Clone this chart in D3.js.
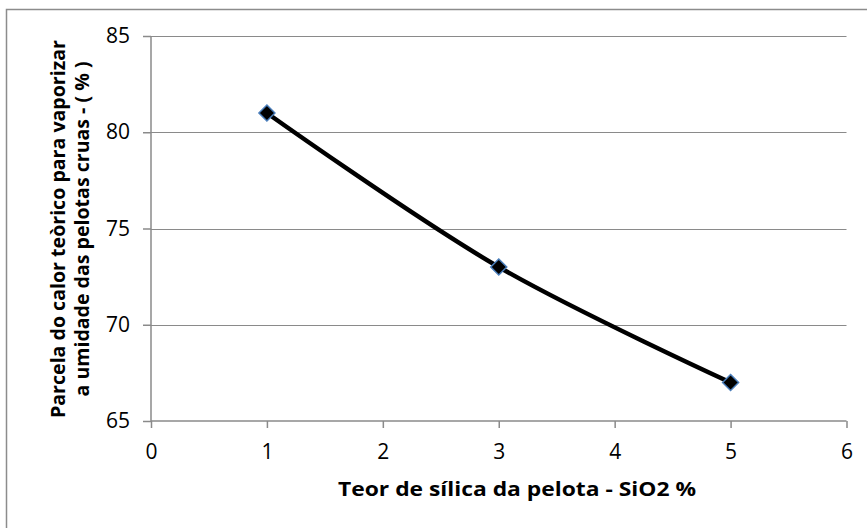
<!DOCTYPE html>
<html>
<head>
<meta charset="utf-8">
<script src="https://cdn.jsdelivr.net/npm/d3@7/dist/d3.min.js"></script>
<style>
  html, body { margin: 0; padding: 0; background: #fff; }
  svg { display: block; }
  text { font-family: "Open Sans", "Noto Sans", sans-serif; fill: #000; }
</style>
</head>
<body>
<svg id="chart" width="867" height="528"></svg>
<script>
// Silica content of the pellet (%) and share of theoretical heat used to evaporate moisture (%)
const silica = [1, 3, 5];
const heatShare = [81, 73, 67];
const xTicks = [0, 1, 2, 3, 4, 5, 6];
const yTicks = [65, 70, 75, 80, 85];
const xTitle = "Teor de sílica da pelota - SiO2 %";
const yTitleLines = ["Parcela do calor teòrico para vaporizar", "a umidade das pelotas cruas - ( % )"];

const svg = d3.select("#chart");
const W = 867, H = 528;

// outer chart frame (runs past the right and bottom edges)
svg.append("rect")
  .attr("x", 6.5).attr("y", 9.5)
  .attr("width", W + 20).attr("height", H + 20)
  .attr("fill", "#fff").attr("stroke", "#8c8c8c").attr("stroke-width", 1.5);

const x = d3.scaleLinear().domain([0, 6]).range([151, 846.5]);
const y = d3.scaleLinear().domain([65, 85]).range([421, 36]);

const grid = "#8a8a8a";

// horizontal gridlines
svg.append("g").selectAll("line").data(yTicks.filter(v => v !== 65)).join("line")
  .attr("x1", x(0)).attr("x2", x(6))
  .attr("y1", d => Math.round(y(d)) + 0.5).attr("y2", d => Math.round(y(d)) + 0.5)
  .attr("stroke", grid).attr("stroke-width", 1.2);

// axes
const yAxis = svg.append("g").attr("transform", `translate(${x(0)},0)`)
  .call(d3.axisLeft(y).tickValues(yTicks).tickFormat(d3.format("d")).tickSize(8).tickPadding(13));
const xAxis = svg.append("g").attr("transform", `translate(0,${y(65)})`)
  .call(d3.axisBottom(x).tickValues(xTicks).tickFormat(d3.format("d")).tickSize(7).tickPadding(16));

[yAxis, xAxis].forEach(a => {
  a.attr("font-size", null).attr("font-family", null);
  a.select(".domain").attr("stroke", grid).attr("stroke-width", 1.5);
  a.selectAll(".tick line").attr("stroke", grid).attr("stroke-width", 1.5);
  a.selectAll(".tick text").style("font-size", "21px").style("fill", "#000");
});
yAxis.select(".domain").attr("d", `M0,${y(85)}V${y(65)}`);
xAxis.select(".domain").attr("d", `M${x(0)},0H${x(6)}`);

// data line
const pts = silica.map((s, i) => [s, heatShare[i]]);
svg.append("path")
  .datum(pts)
  .attr("fill", "none").attr("stroke", "#000").attr("stroke-width", 4.5)
  .attr("stroke-linejoin", "round")
  .attr("d", d3.line().x(d => x(d[0])).y(d => y(d[1])).curve(d3.curveCatmullRom.alpha(0.5)));

// diamond markers
svg.append("g").selectAll("path").data(pts).join("path")
  .attr("transform", d => `translate(${x(d[0])},${y(d[1])})`)
  .attr("d", "M0,-8L8,0L0,8L-8,0Z")
  .attr("fill", "#000").attr("stroke", "#4a7ebb").attr("stroke-width", 1.5);

// bold title spread to a given width
function titleText(parent, str, xPos, yPos, width) {
  return parent.append("text")
    .attr("x", xPos).attr("y", yPos)
    .attr("text-anchor", "middle")
    .style("font-weight", "bold").style("font-size", "19.5px")
    .attr("textLength", width).attr("lengthAdjust", "spacingAndGlyphs")
    .text(str);
}

// axis titles
titleText(svg, xTitle, 517, 496, 358);

const yt = svg.append("g").attr("transform", `translate(0,229) rotate(-90)`);
titleText(yt, yTitleLines[0], 0, 65, 378);
titleText(yt, yTitleLines[1], 0, 89, 335);
</script>
</body>
</html>
